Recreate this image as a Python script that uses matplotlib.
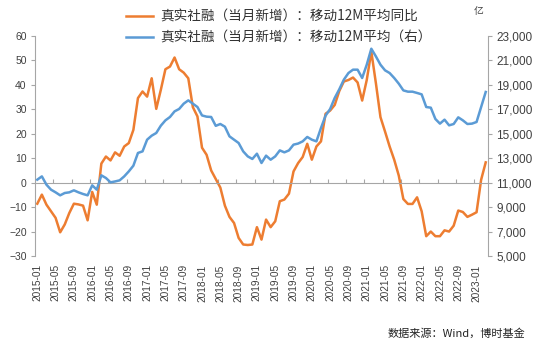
import matplotlib
matplotlib.use("Agg")
import matplotlib.pyplot as plt
from matplotlib.ticker import FuncFormatter

plt.rcParams["font.family"] = ["Liberation Sans", "Noto Sans CJK SC", "DejaVu Sans"]

# monthly, 2015-01 .. 2023-03
months = ["%d-%02d" % (2015 + k // 12, k % 12 + 1) for k in range(99)]

yoy = [-8.6, -4.9, -9.0, -11.7, -14.4, -20.3, -17.1, -12.4, -8.6, -8.9,
       -9.4, -15.4, -3.8, -9.0, 7.8, 10.7, 9.1, 12.4, 11.0, 14.8,
       16.2, 21.6, 34.6, 37.3, 35.2, 42.7, 30.2, 38.0, 46.4, 47.5,
       51.2, 46.4, 45.0, 42.7, 30.9, 27.1, 14.3, 11.4, 5.0, 1.5,
       -2.0, -9.4, -14.0, -16.5, -22.6, -25.3, -25.5, -25.3, -18.2, -23.3,
       -15.1, -18.2, -15.8, -7.6, -6.9, -4.5, 4.6, 8.0, 10.5, 15.9,
       9.4, 14.8, 16.9, 28.2, 29.5, 31.8, 37.5, 41.4, 42.0, 43.0,
       41.0, 33.6, 42.0, 53.6, 40.7, 26.8, 20.9, 14.8, 9.4, 2.9,
       -6.7, -8.7, -8.7, -6.0, -11.7, -21.9, -20.0, -21.9, -21.9, -19.5,
       -20.0, -17.6, -11.4, -12.0, -14.0, -13.1, -12.1, 1.2, 8.3]

avg12 = [11245, 11515, 10836, 10427, 10209, 9964, 10155, 10209, 10373, 10209,
         10073, 9964, 10782, 10427, 11600, 11382, 11027, 11100, 11190, 11515,
         11924, 12390, 13430, 13560, 14517, 14845, 15065, 15663, 16097, 16374,
         16833, 17030, 17463, 17734, 17463, 17190, 16500, 16400, 16374, 15650,
         15800, 15580, 14790, 14517, 14245, 13560, 13150, 12940, 13370, 12610,
         13210, 12880, 13150, 13640, 13480, 13640, 14110, 14200, 14380, 14740,
         14517, 14380, 15475, 16480, 17030, 17930, 18640, 19430, 19970, 20245,
         20245, 19565, 20650, 21960, 21330, 20650, 20190, 19970, 19565, 19100,
         18550, 18445, 18445, 18340, 18225, 17190, 17135, 16210, 15830, 16155,
         15690, 15800, 16345, 16100, 15800, 15830, 15965, 17190, 18420]

label_yoy = "真实社融（当月新增）：移动12M平均同比"
label_avg = "真实社融（当月新增）：移动12M平均（右）"

gray = "#A6A6A6"
orange = "#ED7D31"
blue = "#5B9BD5"

fig = plt.figure(figsize=(5.5, 3.41), dpi=100)
ax = fig.add_axes([35 / 550, 1 - 256 / 341, 453 / 550, 220 / 341])
ax2 = ax.twinx()

x = list(range(len(months)))
l1, = ax.plot(x, yoy, color=orange, lw=1.8, label=label_yoy)
l2, = ax2.plot(x, avg12, color=blue, lw=1.8, label=label_avg)

ax.set_xlim(-0.5, len(months) - 0.5)
ax.set_ylim(-30, 60)
ax.set_yticks(range(-30, 61, 10))
ax2.set_ylim(5000, 23000)
ax2.set_yticks(range(5000, 23001, 2000))
ax2.yaxis.set_major_formatter(FuncFormatter(lambda v, p: "{:,.0f}".format(v)))

for s in ["top", "right"]:
    ax.spines[s].set_visible(False)
for s in ["top", "bottom", "left"]:
    ax2.spines[s].set_visible(False)
ax.spines["left"].set_color(gray)
ax2.spines["right"].set_color(gray)

# category axis crossing at zero, tick marks between categories
ax.spines["bottom"].set_position(("data", 0))
ax.spines["bottom"].set_color(gray)
ax.set_xticks([i - 0.5 for i in range(4, len(months), 4)])
ax.tick_params(axis="x", direction="in", length=3, color=gray, labelbottom=False)

sec = ax.secondary_xaxis("bottom")
sec.set_xticks(x[::4], months[::4], rotation=90)
sec.tick_params(length=0, pad=6, labelsize=7.3, labelcolor="#404040")
sec.spines["bottom"].set_visible(False)

ax.tick_params(axis="y", direction="out", length=3, color=gray, labelsize=7.5,
               labelcolor="#404040", pad=3)
ax2.tick_params(axis="y", direction="out", length=3, color=gray, labelsize=8.5,
                labelcolor="#404040", pad=3)

fig.legend(handles=[l1, l2], loc="upper left", bbox_to_anchor=(126 / 550, 1 - 10 / 341),
           frameon=False, handlelength=2.0, handletextpad=0.5,
           labelspacing=0.5, borderpad=0, borderaxespad=0, labelcolor="#333333",
           prop={"family": ["Noto Sans CJK SC"], "size": 9.8})

fig.text(479 / 550, 1 - 11 / 341, "亿", ha="center", va="center", fontsize=7,
         color="#404040", family=["Noto Sans CJK SC"])
fig.text(525 / 550, 1 - 333 / 341, "数据来源：Wind，博时基金", ha="right", va="center",
         fontsize=8, color="#222222", family=["Noto Sans CJK SC", "Liberation Sans"])

fig.savefig("out.png", dpi=100)
